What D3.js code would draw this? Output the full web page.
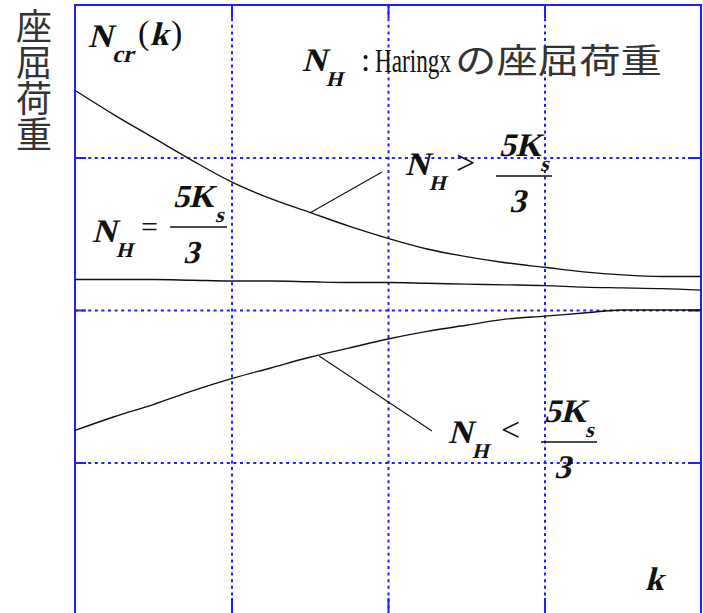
<!DOCTYPE html>
<html>
<head>
<meta charset="utf-8">
<script src="https://cdn.jsdelivr.net/npm/d3@7"></script>
<style>
  html, body { margin: 0; padding: 0; background: #fff; }
  svg { display: block; }
  .serif { font-family: "Liberation Serif", "Times New Roman", serif; }
  .bi { font-weight: bold; }
  .cjk { font-family: "Noto Sans CJK JP", sans-serif; }
</style>
</head>
<body>
<svg id="chart" width="703" height="613"></svg>
<script>
// Stiffness ratio k (horizontal) and the three buckling-load branches N_cr(k)
const kValues = [0, 0.25, 0.5, 0.75, 1, 1.25, 1.5, 1.75, 2, 2.25, 2.5, 2.75, 3, 3.25, 3.5, 3.75, 4];
// N_H > 5Ks/3
const upperBranch = [3.44, 3.28, 3.13, 2.98, 2.84, 2.73, 2.64, 2.55, 2.47, 2.40, 2.35, 2.31, 2.28, 2.25, 2.23, 2.22, 2.22];
// N_H = 5Ks/3
const middleBranch = [2.20, 2.20, 2.20, 2.195, 2.19, 2.19, 2.185, 2.18, 2.18, 2.175, 2.17, 2.165, 2.16, 2.15, 2.145, 2.14, 2.13];
// N_H < 5Ks/3
const lowerBranch = [1.21, 1.30, 1.38, 1.47, 1.55, 1.62, 1.69, 1.75, 1.81, 1.86, 1.90, 1.94, 1.96, 1.98, 2.00, 2.00, 2.00];
// grid divisions on both axes
const gridTicks = [1, 2, 3];
// leader lines from a branch to its label: [k, N] pairs
const leaderUpper = [[1.5, 2.636], [1.962, 2.905]];
const leaderLower = [[1.56, 1.698], [2.281, 1.207]];

const svg = d3.select("#chart");
const plotLeft = 75, plotRight = 701, plotTop = 5, plotBottom = 615;
const x = d3.scaleLinear().domain([0, 4]).range([plotLeft, plotRight]);
const y = d3.scaleLinear().domain([0, 4]).range([plotBottom, plotTop]);
const blue = "#2020ff";

// dotted grid
const grid = svg.append("g");
grid.append("g").attr("transform", `translate(${plotLeft},0)`)
  .call(d3.axisLeft(y).tickValues(gridTicks).tickSize(-(plotRight - plotLeft)).tickFormat(""));
grid.append("g").attr("transform", `translate(0,${plotTop})`)
  .call(d3.axisTop(x).tickValues(gridTicks).tickSize(-(plotBottom - plotTop)).tickFormat(""));
grid.selectAll(".domain").remove();
grid.selectAll(".tick line").attr("stroke", blue).attr("stroke-width", 2).attr("stroke-dasharray", "3,3.6");

// solid ticks on all four sides
function ticks(axis, tx, ty, len) {
  const g = svg.append("g").attr("transform", `translate(${tx},${ty})`)
    .call(axis.tickValues(gridTicks).tickSize(-len).tickFormat(""));
  g.select(".domain").remove();
  g.selectAll(".tick line").attr("stroke", blue).attr("stroke-width", 2);
}
ticks(d3.axisLeft(y), plotLeft, 0, 11);
ticks(d3.axisRight(y), plotRight, 0, 13);
ticks(d3.axisTop(x), 0, plotTop, 13);
ticks(d3.axisBottom(x), 0, plotBottom, 17);

// frame
svg.append("rect").attr("x", plotLeft).attr("y", plotTop)
  .attr("width", plotRight - plotLeft).attr("height", plotBottom - plotTop)
  .attr("fill", "none").attr("stroke", blue).attr("stroke-width", 2);

// branches
const line = d3.line().x(d => x(d[0])).y(d => y(d[1])).curve(d3.curveMonotoneX);
[upperBranch, middleBranch, lowerBranch].forEach(series => {
  svg.append("path")
    .datum(kValues.map((k, i) => [k, series[i]]))
    .attr("d", line)
    .attr("fill", "none").attr("stroke", "#111").attr("stroke-width", 1.4);
});

// leader lines
const straight = d3.line().x(d => x(d[0])).y(d => y(d[1]));
[leaderUpper, leaderLower].forEach(seg => {
  svg.append("path").attr("d", straight(seg))
    .attr("fill", "none").attr("stroke", "#111").attr("stroke-width", 1.1);
});

// text helpers; bold italic math symbols are bold serif slanted with skewX
function t(str, px, py, size, cls, extra) {
  const el = svg.append("text").attr("class", cls).attr("font-size", size)
    .attr("fill", "#111").text(str);
  if (cls.includes("bi")) {
    el.attr("transform", `translate(${px},${py}) skewX(-14)`);
  } else {
    el.attr("x", px).attr("y", py);
  }
  if (extra) extra(el);
  return el;
}
// text squeezed or stretched horizontally to a given width
function fitted(str, px, py, size, cls, width, fill) {
  const el = svg.append("text").attr("class", cls).attr("font-size", size)
    .attr("fill", fill).text(str);
  const natural = el.node().getComputedTextLength();
  el.attr("transform", `translate(${px},${py}) scale(${width / natural},1)`);
  return el;
}
function fraction(px, barY, barW, size) {
  t("5K", px + 3, barY - 20, size, "serif bi");
  t("s", px + barW - 12, barY - 5, 22, "serif bi");
  svg.append("line").attr("x1", px).attr("x2", px + barW)
    .attr("y1", barY).attr("y2", barY).attr("stroke", "#111").attr("stroke-width", 1.6);
  t("3", px + 13, barY + 36, size, "serif bi");
}
function nh(px, py) {
  t("N", px, py, 33, "serif bi");
  t("H", px + 24, py + 15, 21, "serif bi");
}

// vertical axis title
svg.append("text").attr("class", "cjk").attr("font-size", 36).attr("fill", "#333")
  .attr("x", 34).attr("y", 8)
  .style("writing-mode", "vertical-rl")
  .text("座屈荷重");

// N_cr(k)
t("N", 88, 47, 33, "serif bi");
t("cr", 112, 62, 24, "serif bi");
t("(", 138, 44, 34, "serif");
t("k", 150, 45, 33, "serif bi");
t(")", 171, 44, 34, "serif");

// legend line
nh(302, 71);
t(":", 361, 71, 33, "serif");
fitted("Haringx", 375, 72, 33, "serif", 76, "#111");
fitted("の座屈荷重", 455, 73, 34, "cjk", 207, "#333");

// N_H > 5Ks/3
nh(405, 175);
t(">", 456, 174, 34, "serif");
fraction(496, 176, 56, 33);

// N_H = 5Ks/3
nh(92, 242);
t("=", 141, 237, 30, "serif");
fraction(170, 227, 57, 32);

// N_H < 5Ks/3
nh(448, 443);
t("<", 501, 441, 34, "serif");
fraction(541, 442, 56, 33);

// horizontal axis title
t("k", 645, 590, 33, "serif bi");
</script>
</body>
</html>
